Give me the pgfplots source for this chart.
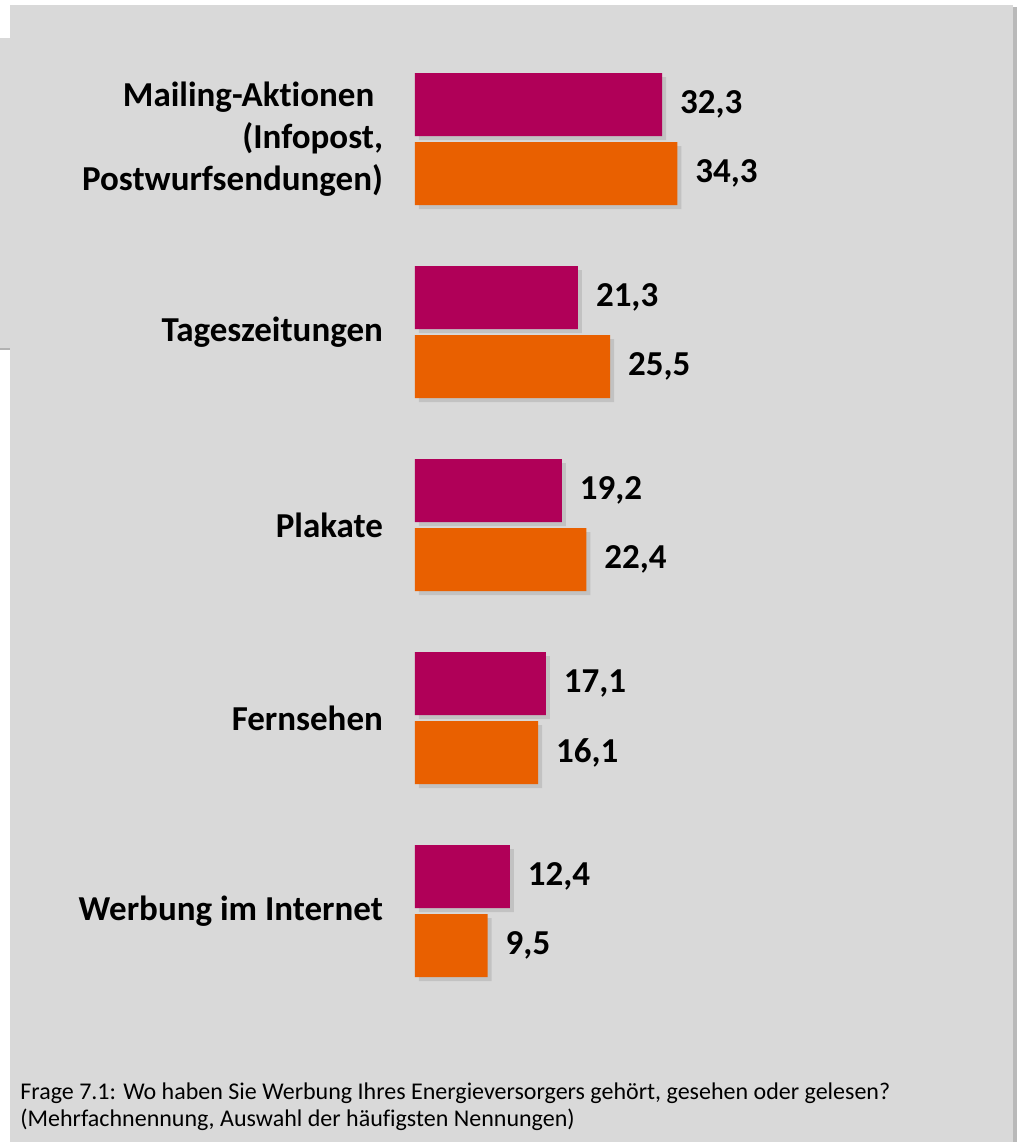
\documentclass[border=0pt]{standalone}
\usepackage{pgfplots}
\pgfplotsset{compat=1.18}
\usepackage{fontspec}
\setmainfont{Carlito}[Ligatures={NoCommon}]
\usetikzlibrary{shadows}
\definecolor{bg}{HTML}{D9D9D9}
\definecolor{mag}{HTML}{B00058}
\definecolor{ora}{HTML}{E96000}
\begin{document}
\begin{tikzpicture}[x=0.5pt,y=-0.5pt]
% page and panels (1 unit = 1 px of the reference)
\fill[white] (0,0) rectangle (1017,1142);
\fill[gray!60] (0,38) rectangle (12,350);
\fill[bg] (0,38) rectangle (10,348);
\fill[gray!55] (12,7) rectangle (1017,1142);
\fill[bg] (10,5) rectangle (1013,1142);
\begin{axis}[
  at={(207.5pt,-21.25pt)}, anchor=north west,
  scale only axis, width=191.25pt, height=482.5pt,
  xmin=0, xmax=50, ymin=-0.5, ymax=4.5, y dir=reverse,
  axis line style={draw=none}, xtick=\empty,
  ytick={0,1,2,3,4}, major tick length=0pt,
  yticklabels={{Mailing-Aktionen\hspace*{0.25em}\\(Infopost,\\Postwurfsendungen)},Tageszeitungen,Plakate,Fernsehen,Werbung im Internet},
  yticklabel style={align=right, font=\fontsize{17.5}{21}\selectfont\bfseries, xshift=-12.5pt},
  xbar, bar width=0.3264, bar shift=0pt,
  nodes near coords,
  nodes near coords style={font=\fontsize{17.5}{20}\selectfont\bfseries, anchor=west, xshift=5.5pt,
    /pgf/number format/.cd, use comma, fixed, fixed zerofill, precision=1, assume math mode=true},
  clip=false,
]
\addplot[fill=mag, draw=none, bar shift=0pt, drop shadow={opacity=0.25, shadow xshift=2pt, shadow yshift=-2pt}] coordinates {
  (32.3,-0.1788) (21.3,0.8212) (19.2,1.8212) (17.1,2.8212) (12.4,3.8212)};
\addplot[fill=ora, draw=none, bar shift=0pt, drop shadow={opacity=0.25, shadow xshift=2pt, shadow yshift=-2pt}] coordinates {
  (34.3,0.1788) (25.5,1.1788) (22.4,2.1788) (16.1,3.1788) (9.5,4.1788)};
\end{axis}
\node[anchor=base west, inner sep=0pt, font=\fontsize{12}{14}\selectfont] at (20,1099) {Frage 7.1: Wo haben Sie Werbung Ihres Energieversorgers gehört, gesehen oder gelesen?};
\node[anchor=base west, inner sep=0pt, font=\fontsize{12}{14}\selectfont] at (20,1126) {(Mehrfachnennung, Auswahl der häufigsten Nennungen)};
\end{tikzpicture}
\end{document}
